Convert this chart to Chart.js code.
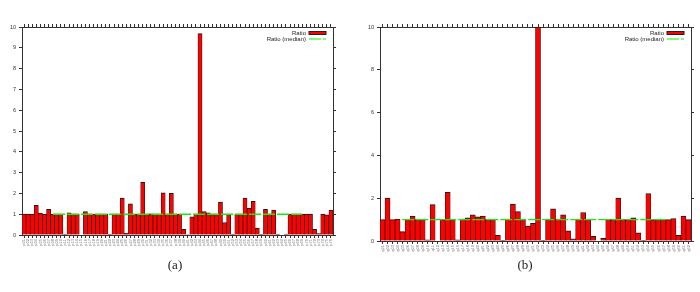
<!DOCTYPE html>
<html>
<head>
<meta charset="utf-8">
<script src="https://cdn.jsdelivr.net/npm/chart.js@4.4.1/dist/chart.umd.min.js"></script>
<style>
  body { margin: 0; background: #fff; width: 700px; height: 292px; position: relative; overflow: hidden; }
  .panel { position: absolute; top: 0; width: 350px; height: 292px; }
  .cap { position: absolute; top: 257px; width: 350px; text-align: center; font: 13px "Liberation Serif", serif; color: #222; }
</style>
</head>
<body>
<div class="panel" style="left:0"><canvas id="chart-a"></canvas></div>
<div class="panel" style="left:350px"><canvas id="chart-b"></canvas></div>
<div class="cap" style="left:0">(a)</div>
<div class="cap" style="left:350px">(b)</div>
<script>
// panel (a): 76 programs
const ratioA = [
    1.0, 1.0, 1.0, 1.43, 1.05, 1.0, 1.23, 1.0, 1.0, 1.0,
    0.03, 1.07, 1.0, 1.0, 0, 1.13, 1.0, 1.0, 1.0, 1.0,
    1.0, 0.03, 1.0, 1.0, 1.77, 0.08, 1.5, 1.0, 1.0, 2.53,
    1.0, 1.02, 1.0, 1.0, 2.03, 1.0, 2.0, 1.0, 1.0, 0.27,
    0.02, 0.87, 1.0, 9.68, 1.13, 1.07, 1.0, 1.0, 1.58, 0.6,
    1.0, 0.03, 1.0, 1.0, 1.77, 1.28, 1.62, 0.33, 0.03, 1.23,
    1.0, 1.2, 0.05, 0, 0.05, 1.0, 1.0, 1.0, 1.0, 1.0,
    1.0, 0.27, 0.07, 1.0, 0.97, 1.2
];
const labelsA = ratioA.map((_, i) => "p" + String(i + 1).padStart(2, "0"));
const medianA = 1.0;
const yTicksA = [0, 1, 2, 3, 4, 5, 6, 7, 8, 9, 10];

// panel (b): 62 programs
const ratioB = [
    1.0, 2.0, 1.0, 1.03, 0.44, 1.0, 1.16, 1.0, 1.0, 0.05,
    1.7, 0, 1.0, 2.27, 1.0, 0.05, 1.03, 1.08, 1.22, 1.13,
    1.16, 1.0, 1.0, 0.27, 0.03, 1.03, 1.73, 1.37, 1.0, 0.7,
    0.83, 10, 0.03, 1.0, 1.5, 1.02, 1.22, 0.48, 0.1, 1.0,
    1.33, 1.0, 0.22, 0, 0.13, 1.0, 1.0, 2.0, 1.0, 1.0,
    1.08, 0.38, 0.03, 2.22, 1.0, 1.0, 1.0, 1.0, 1.05, 0.27,
    1.16, 1.0
];
const labelsB = ratioB.map((_, i) => "q" + String(i + 1).padStart(2, "0"));
const medianB = 1.0;
const yTicksB = [0, 2, 4, 6, 8, 10];

const AXIS = "#333";
const TICK_FONT = { family: "'Liberation Sans', Arial, sans-serif", size: 5.5 };

// gnuplot-like key in the top right corner: text first, sample after
const cornerKey = {
    id: "cornerKey",
    afterDraw(chart) {
        const { ctx, chartArea } = chart;
        const x1 = chartArea.right - 7;
        const x0 = x1 - 17;
        ctx.save();
        ctx.font = "6px 'Liberation Sans', Arial, sans-serif";
        ctx.textAlign = "right";
        ctx.textBaseline = "middle";
        chart.data.datasets.forEach((ds, i) => {
            const y = chartArea.top + 6 + i * 6;
            ctx.fillStyle = "#222";
            ctx.fillText(ds.label, x0 - 3, y);
            if (ds.type === "line") {
                ctx.strokeStyle = ds.borderColor;
                ctx.lineWidth = 1.2;
                ctx.setLineDash(ds.borderDash);
                ctx.beginPath();
                ctx.moveTo(x0, y);
                ctx.lineTo(x1, y);
                ctx.stroke();
                ctx.setLineDash([]);
            } else {
                ctx.fillStyle = ds.backgroundColor;
                ctx.fillRect(x0, y - 1.5, 17, 3);
                ctx.strokeStyle = "#222";
                ctx.lineWidth = 1;
                ctx.strokeRect(x0, y - 1.5, 17, 3);
            }
        });
        ctx.restore();
    }
};

function makePanel(id, labels, ratios, median, yTicks, box) {
    const grid = { drawOnChartArea: false, tickLength: 3, color: AXIS };
    new Chart(document.getElementById(id), {
        type: "bar",
        data: {
            labels,
            datasets: [
                {
                    type: "bar",
                    label: "Ratio",
                    xAxisID: "x",
                    yAxisID: "y",
                    data: ratios,
                    backgroundColor: "#ff0000",
                    borderColor: "#1a1a1a",
                    borderWidth: { top: 1, left: 0.7, right: 0.7, bottom: 0 },
                    borderSkipped: false,
                    barPercentage: 1,
                    categoryPercentage: 1,
                    grouped: false,
                    order: 2,
                },
                {
                    type: "line",
                    label: "Ratio (median)",
                    xAxisID: "xm",
                    yAxisID: "y",
                    data: [{ x: 0, y: median }, { x: labels.length, y: median }],
                    borderColor: "#11ee11",
                    borderWidth: 1.4,
                    borderDash: [12, 2],
                    pointRadius: 0,
                    order: 1,
                },
            ],
        },
        options: {
            responsive: true,
            maintainAspectRatio: false,
            animation: false,
            datasets: { bar: { barPercentage: 1, categoryPercentage: 1 } },
            layout: { padding: { left: 0, right: box.padRight, top: 24, bottom: 0 } },
            plugins: { legend: { display: false }, tooltip: { enabled: false } },
            scales: {
                x: {
                    type: "category",
                    offset: true,
                    grid: { ...grid, offset: false },
                    border: { color: AXIS, width: 1 },
                    ticks: {
                        autoSkip: false,
                        minRotation: 90,
                        maxRotation: 90,
                        padding: 1,
                        color: "#777",
                        font: { family: TICK_FONT.family, size: 4 },
                    },
                    afterFit: (s) => { s.height = box.bottomH; },
                },
                x2: {
                    type: "category",
                    position: "top",
                    offset: true,
                    grid: { ...grid, offset: false },
                    border: { color: AXIS, width: 1 },
                    ticks: { display: false },
                    afterFit: (s) => { s.height = 3; },
                },
                xm: { type: "linear", display: false, min: 0, max: labels.length },
                y: {
                    min: 0,
                    max: 10,
                    afterBuildTicks: (s) => { s.ticks = yTicks.map((v) => ({ value: v })); },
                    grid,
                    border: { color: AXIS, width: 1 },
                    ticks: { color: "#333", font: TICK_FONT, padding: 3 },
                    afterFit: (s) => { s.width = box.leftW; },
                },
                y2: {
                    position: "right",
                    min: 0,
                    max: 10,
                    afterBuildTicks: (s) => { s.ticks = yTicks.map((v) => ({ value: v })); },
                    grid,
                    border: { color: AXIS, width: 1 },
                    ticks: { display: false },
                    afterFit: (s) => { s.width = 3; },
                },
            },
        },
        plugins: [cornerKey],
    });
}

makePanel("chart-a", labelsA, ratioA, medianA, yTicksA, { leftW: 22, padRight: 14, bottomH: 57 });
makePanel("chart-b", labelsB, ratioB, medianB, yTicksB, { leftW: 30, padRight: 6, bottomH: 51 });
</script>
</body>
</html>
